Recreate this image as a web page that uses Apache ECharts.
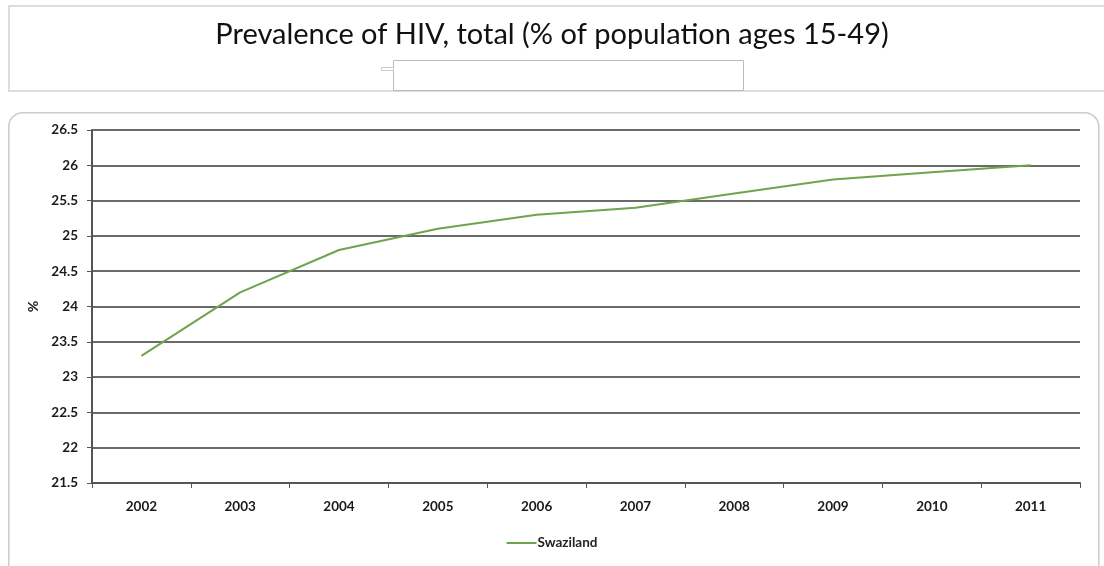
<!DOCTYPE html>
<html>
<head>
<meta charset="utf-8">
<script src="https://cdn.jsdelivr.net/npm/echarts@6/dist/echarts.min.js"></script>
<style>
  html, body { margin: 0; padding: 0; background: #fff; }
  #chart { width: 1104px; height: 566px; }
</style>
</head>
<body>
<div id="chart"></div>
<script>
const years = ['2002', '2003', '2004', '2005', '2006', '2007', '2008', '2009', '2010', '2011'];
const swaziland = [23.3, 24.2, 24.8, 25.1, 25.3, 25.4, 25.6, 25.8, 25.9, 26.0];
const titleText = 'Prevalence of HIV, total (% of population ages 15-49)';

const chart = echarts.init(document.getElementById('chart'));

chart.setOption({
  animation: false,
  backgroundColor: '#fff',
  graphic: [
    // title panel
    { type: 'rect', left: 8, top: 5, shape: { width: 1100, height: 85 },
      style: { fill: '#fff', stroke: '#ddd', lineWidth: 2 }, z: -10 },
    // covered subtitle box
    { type: 'rect', left: 393, top: 60, shape: { width: 350, height: 30 },
      style: { fill: '#fff', stroke: '#bbb', lineWidth: 1 }, z: 10 },
    { type: 'rect', left: 381, top: 67, shape: { width: 12, height: 3 },
      style: { fill: '#fff', stroke: '#ccc', lineWidth: 1 }, z: 10 },
    // chart panel
    { type: 'rect', left: 8, top: 112, shape: { width: 1090, height: 470, r: 14 },
      style: { fill: '#fff', stroke: '#ccc', lineWidth: 1.5 }, z: -10 }
  ],
  title: {
    text: titleText,
    left: 'center',
    top: 15,
    textStyle: { fontFamily: 'Lato', fontWeight: 'normal', fontSize: 29, color: '#111' }
  },
  legend: {
    bottom: 11,
    left: 'center',
    itemWidth: 30,
    itemHeight: 2,
    itemGap: 2,
    icon: 'rect',
    textStyle: { fontFamily: 'Lato', fontWeight: 'bold', fontSize: 13.5, color: '#222', padding: [0, 0, 0, -4] }
  },
  grid: { left: 92, right: 24, top: 130, bottom: 83, containLabel: false },
  xAxis: {
    type: 'category',
    data: years,
    boundaryGap: true,
    axisLine: { lineStyle: { color: '#555', width: 2 } },
    axisTick: { show: true, interval: 0, length: 5, lineStyle: { color: '#555' } },
    axisLabel: { margin: 17, fontFamily: 'Lato', fontWeight: 'bold', fontSize: 13.5, color: '#1a1a1a' }
  },
  yAxis: {
    type: 'value',
    name: '%',
    nameLocation: 'middle',
    nameGap: 40,
    nameRotate: 90,
    nameTextStyle: { fontFamily: 'Lato', fontWeight: 'bold', fontSize: 14, color: '#1a1a1a' },
    min: 21.5,
    max: 26.5,
    interval: 0.5,
    axisLine: { show: true, lineStyle: { color: '#555', width: 2 } },
    axisTick: { show: true, length: 5, lineStyle: { color: '#555' } },
    splitLine: { lineStyle: { color: '#6a6a6a', width: 2 } },
    axisLabel: { margin: 14, fontFamily: 'Lato', fontWeight: 'bold', fontSize: 13.5, color: '#1a1a1a' }
  },
  series: [{
    name: 'Swaziland',
    type: 'line',
    data: swaziland,
    symbol: 'none',
    lineStyle: { color: '#6fa34c', width: 2 },
    itemStyle: { color: '#6fa34c' }
  }]
});
</script>
</body>
</html>
